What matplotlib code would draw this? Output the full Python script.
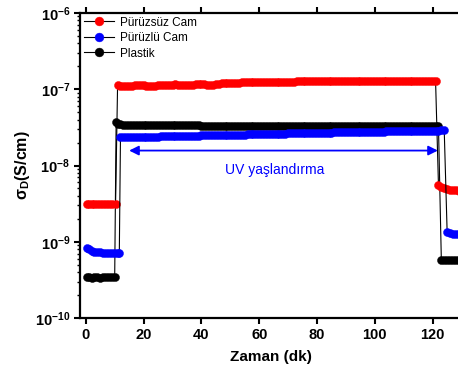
import matplotlib
matplotlib.use("Agg")
import numpy as np
import matplotlib.pyplot as plt
from matplotlib.ticker import FixedLocator, LogLocator, NullFormatter

plt.rcParams['font.family'] = ['Liberation Sans', 'DejaVu Sans']
plt.rcParams['mathtext.fontset'] = 'custom'
plt.rcParams['mathtext.rm'] = 'Liberation Sans'
plt.rcParams['mathtext.bf'] = 'Liberation Sans:bold'
plt.rcParams['mathtext.it'] = 'Liberation Sans:italic'

# ---- data (time in minutes; conductivity in S/cm) ----
# Pürüzsüz Cam (red)
red_pre_x = [0.5, 1, 2, 3, 4, 5, 6, 7, 8, 9, 10.3]
red_pre_y = [3.1e-9, 3.1e-9, 3.08e-9, 3.1e-9, 3.1e-9, 3.08e-9, 3.1e-9, 3.1e-9, 3.1e-9, 3.1e-9, 3.1e-9]
red_uv_x = list(range(11, 122))
red_uv_y = [1.12, 1.11, 1.10, 1.10, 1.10, 1.11, 1.12, 1.12, 1.13, 1.12,
            1.11, 1.10, 1.10, 1.11, 1.12, 1.13, 1.14, 1.14, 1.15, 1.15,
            1.16, 1.15, 1.14, 1.13, 1.12, 1.13, 1.15, 1.16, 1.17, 1.17,
            1.16, 1.15, 1.14, 1.15, 1.17, 1.18, 1.19, 1.20, 1.21, 1.21,
            1.22, 1.22, 1.22, 1.23, 1.23, 1.23, 1.24, 1.24, 1.24, 1.24,
            1.25, 1.25, 1.25, 1.25, 1.25, 1.26, 1.26, 1.26, 1.26, 1.26,
            1.26, 1.26, 1.27, 1.27, 1.27, 1.27, 1.27, 1.27, 1.27, 1.27,
            1.28, 1.28, 1.28, 1.28, 1.28, 1.28, 1.28, 1.28, 1.28, 1.28,
            1.28, 1.28, 1.28, 1.29, 1.29, 1.29, 1.29, 1.29, 1.29, 1.29,
            1.29, 1.29, 1.29, 1.30, 1.30, 1.30, 1.30, 1.30, 1.30, 1.30,
            1.30, 1.30, 1.30, 1.30, 1.30, 1.30, 1.30, 1.30, 1.30, 1.30, 1.30]  # x1e-7
red_post_x = [122, 123, 124, 125, 126, 127, 128, 129, 130]
red_post_y = [5.6e-9, 5.25e-9, 5.05e-9, 4.92e-9, 4.83e-9, 4.77e-9, 4.72e-9, 4.69e-9, 4.66e-9]

# Pürüzlü Cam (blue)
blue_pre_x = [0.5, 1, 2, 3, 4, 5, 6, 7, 8, 9, 10, 11, 11.6]
blue_pre_y = [8.2e-10, 8.0e-10, 7.6e-10, 7.4e-10, 7.3e-10, 7.25e-10, 7.2e-10, 7.2e-10,
              7.2e-10, 7.2e-10, 7.2e-10, 7.2e-10, 7.2e-10]
blue_uv_x = list(range(12, 125))
blue_uv_y = [2.33, 2.34, 2.35, 2.35, 2.36, 2.36, 2.37, 2.37, 2.38, 2.38,
             2.39, 2.39, 2.40, 2.40, 2.41, 2.41, 2.42, 2.42, 2.43, 2.43,
             2.44, 2.44, 2.45, 2.45, 2.46, 2.46, 2.47, 2.47, 2.48, 2.48,
             2.49, 2.49, 2.50, 2.50, 2.51, 2.51, 2.52, 2.52, 2.53, 2.53,
             2.54, 2.54, 2.55, 2.55, 2.56, 2.56, 2.57, 2.57, 2.58, 2.58,
             2.59, 2.59, 2.60, 2.60, 2.61, 2.61, 2.62, 2.62, 2.63, 2.63,
             2.64, 2.64, 2.65, 2.65, 2.66, 2.66, 2.67, 2.67, 2.68, 2.68,
             2.69, 2.69, 2.70, 2.70, 2.71, 2.71, 2.72, 2.72, 2.73, 2.73,
             2.74, 2.74, 2.75, 2.75, 2.76, 2.76, 2.77, 2.77, 2.78, 2.78,
             2.79, 2.79, 2.80, 2.80, 2.81, 2.81, 2.82, 2.82, 2.83, 2.83,
             2.84, 2.84, 2.85, 2.85, 2.85, 2.86, 2.86, 2.86, 2.87, 2.87,
             2.87, 2.88, 2.88]  # x1e-8
blue_post_x = [125, 126, 127, 128, 129, 130]
blue_post_y = [1.36e-9, 1.31e-9, 1.28e-9, 1.26e-9, 1.25e-9, 1.24e-9]

# Plastik (black)
black_pre_x = [0.5, 1, 2, 3, 4, 5, 6, 7, 8, 9, 10]
black_pre_y = [3.4e-10, 3.4e-10, 3.35e-10, 3.4e-10, 3.4e-10, 3.38e-10, 3.4e-10, 3.4e-10,
               3.42e-10, 3.4e-10, 3.4e-10]
black_uv_x = [10.5] + list(range(11, 123))
black_uv_y = [3.70,
              3.55, 3.48, 3.44, 3.42, 3.40, 3.39, 3.38, 3.38, 3.37, 3.37,
              3.37, 3.36, 3.36, 3.36, 3.36, 3.36, 3.36, 3.36, 3.37, 3.37,
              3.37, 3.37, 3.37, 3.36, 3.36, 3.36, 3.36, 3.36, 3.35, 3.33,
              3.30, 3.28, 3.27, 3.27, 3.27, 3.27, 3.27, 3.27, 3.27, 3.27,
              3.28, 3.28, 3.28, 3.28, 3.28, 3.28, 3.28, 3.28, 3.28, 3.28,
              3.28, 3.28, 3.29, 3.29, 3.29, 3.29, 3.29, 3.30, 3.30, 3.30,
              3.30, 3.30, 3.30, 3.30, 3.30, 3.30, 3.30, 3.30, 3.30, 3.30,
              3.31, 3.31, 3.31, 3.31, 3.31, 3.31, 3.31, 3.31, 3.31, 3.31,
              3.31, 3.31, 3.32, 3.32, 3.32, 3.32, 3.32, 3.32, 3.33, 3.33,
              3.33, 3.33, 3.33, 3.33, 3.33, 3.33, 3.33, 3.33, 3.33, 3.33,
              3.34, 3.34, 3.34, 3.34, 3.34, 3.34, 3.34, 3.34, 3.34, 3.34,
              3.34, 3.34]  # x1e-8
black_post_x = [123, 124, 125, 126, 127, 128, 129, 130]
black_post_y = [5.7e-10, 5.7e-10, 5.7e-10, 5.7e-10, 5.7e-10, 5.7e-10, 5.7e-10, 5.7e-10]

series_labels = ['Pürüzsüz Cam', 'Pürüzlü Cam', 'Plastik']
series_colors = ['#ff0000', '#0000ff', '#000000']

x_ticks = [0, 20, 40, 60, 80, 100, 120]
y_ticks = [1e-10, 1e-9, 1e-8, 1e-7, 1e-6]
y_ticklabels = [r'$\mathbf{10^{-10}}$', r'$\mathbf{10^{-9}}$', r'$\mathbf{10^{-8}}$',
                r'$\mathbf{10^{-7}}$', r'$\mathbf{10^{-6}}$']

uv_start, uv_end, uv_level = 15.0, 121.8, 1.57e-8
uv_text = 'UV yaşlandırma'

red_x = red_pre_x + red_uv_x + red_post_x
red_y = red_pre_y + list(np.array(red_uv_y) * 1e-7) + red_post_y
blue_x = blue_pre_x + blue_uv_x + blue_post_x
blue_y = blue_pre_y + list(np.array(blue_uv_y) * 1e-8) + blue_post_y
black_x = black_pre_x + black_uv_x + black_post_x
black_y = black_pre_y + list(np.array(black_uv_y) * 1e-8) + black_post_y

# ---- figure ----
fig = plt.figure(figsize=(4.58, 3.76), dpi=100)
ax = fig.add_axes([80/458, 1-318/376, 381/458, 305/376])

zorders = [3, 3, 2]
for xs, ys, lab, col, zo in zip([red_x, blue_x, black_x], [red_y, blue_y, black_y],
                                series_labels, series_colors, zorders):
    ax.plot(xs, ys, color='black', lw=0.8, marker='o', markersize=5.8,
            markerfacecolor=col, markeredgecolor=col, markeredgewidth=0.3,
            label=lab, zorder=zo)

ax.set_yscale('log')
ax.set_ylim(1e-10, 1e-6)
ax.set_xlim(-2, 129.8)

ax.xaxis.set_major_locator(FixedLocator(x_ticks))
ax.set_xticklabels([str(t) for t in x_ticks], fontweight='bold', fontsize=10.5)
ax.yaxis.set_major_locator(FixedLocator(y_ticks))
ax.set_yticklabels(y_ticklabels, fontsize=10.5)
ax.yaxis.set_minor_locator(LogLocator(base=10, subs=range(2, 10)))
ax.yaxis.set_minor_formatter(NullFormatter())

for s in ax.spines.values():
    s.set_linewidth(1.6)

ax.tick_params(axis='both', which='major', direction='out', length=4, width=1.5, pad=3)
ax.tick_params(axis='y', which='minor', direction='out', length=2.5, width=1.0)
ax.tick_params(axis='x', which='both', top=True, labeltop=False)
ax.tick_params(axis='y', which='major', right=True, labelright=False)
ax.tick_params(axis='y', which='minor', right=False)

ax.set_xlabel('Zaman (dk)', fontweight='bold', fontsize=11, labelpad=6)
ax.set_ylabel(r'$\mathbf{σ_D(S/cm)}$', fontsize=11.5, labelpad=2)

ax.annotate('', xy=(uv_end, uv_level), xytext=(uv_start, uv_level),
            arrowprops=dict(arrowstyle='<|-|>', color='#0000ff', lw=1.3,
                            mutation_scale=14, shrinkA=0, shrinkB=0))
ax.text((uv_start + uv_end) / 2 - 3, 8.7e-9, uv_text, color='#0000ff',
        fontsize=10, ha='center', va='center')

leg = ax.legend(loc='upper left', frameon=False, fontsize=8.5,
                handlelength=2.6, handletextpad=0.5, labelspacing=0.3,
                borderaxespad=0.2, borderpad=0.1, markerscale=1.1)

fig.savefig('out.png', dpi=100)
